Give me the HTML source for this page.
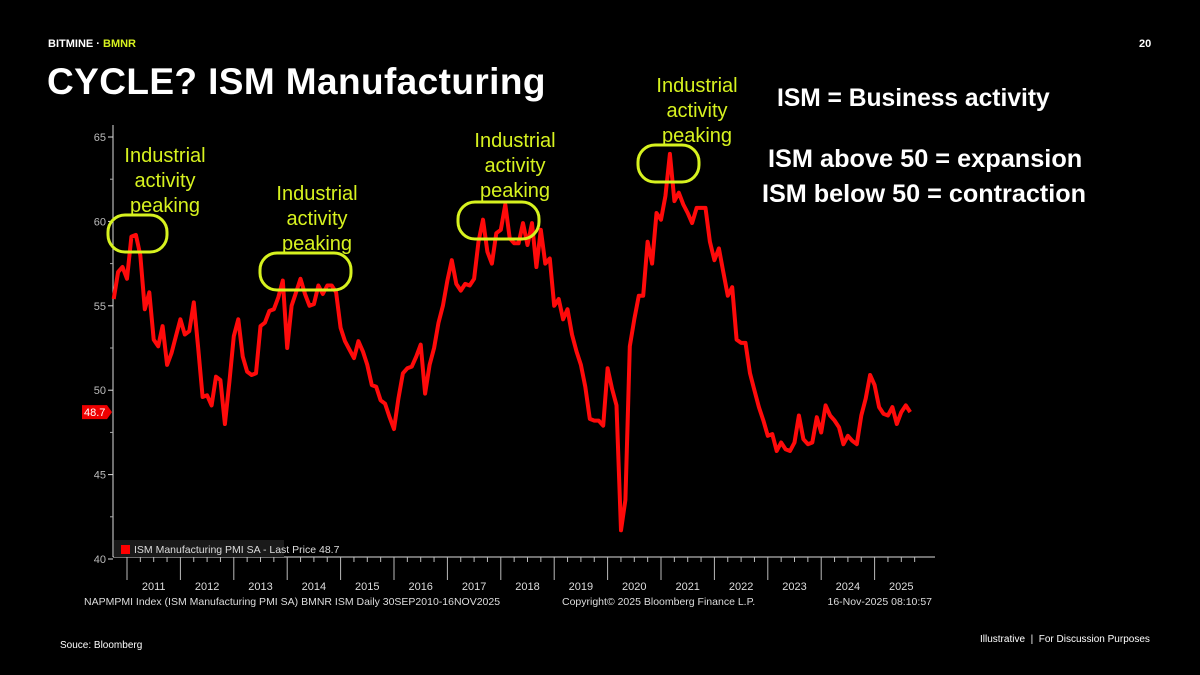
<!DOCTYPE html>
<html><head><meta charset="utf-8">
<style>
html,body{margin:0;padding:0;background:#000;}
body{width:1200px;height:675px;position:relative;overflow:hidden;font-family:"Liberation Sans",sans-serif;}
.t{position:absolute;white-space:nowrap;}
</style></head>
<body>
<div class="t" style="left:48px;top:38px;font-size:11px;font-weight:bold;color:#fff;">BITMINE · <span style="color:#d7f21f">BMNR</span></div>
<div class="t" style="left:1139px;top:38px;font-size:11px;font-weight:bold;color:#fff;">20</div>
<div class="t" style="left:47px;top:61px;font-size:37px;font-weight:bold;color:#fff;letter-spacing:0.4px;">CYCLE? ISM Manufacturing</div>
<div class="t" style="left:777px;top:85px;font-size:24.6px;font-weight:bold;color:#fff;">ISM = Business activity</div>
<div class="t" style="left:768px;top:145px;font-size:25.3px;font-weight:bold;color:#fff;">ISM above 50 = expansion</div>
<div class="t" style="left:762px;top:180px;font-size:25.2px;font-weight:bold;color:#fff;">ISM below 50 = contraction</div>
<div class="t" style="left:60px;top:640px;font-size:10px;color:#fff;">Souce: Bloomberg</div>
<div class="t" style="left:980px;top:634px;font-size:10px;color:#fff;">Illustrative &nbsp;|&nbsp; For Discussion Purposes</div>

<svg id="chart" width="1200" height="675" style="position:absolute;left:0;top:0;" xmlns="http://www.w3.org/2000/svg"></svg>

<script>
const yTicks=[40,45,50,55,60,65];
const yearLabels=["2011","2012","2013","2014","2015","2016","2017","2018","2019","2020","2021","2022","2023","2024","2025"];
const startMonthOffset=-3; // Oct 2010 relative to Jan 2011
const ism2010=[55.4,57.0,57.3];
const ism2011=[56.6,59.1,59.2,58.0,54.8,55.8,53.0,52.6,53.8,51.5,52.2,53.2];
const ism2012=[54.2,53.3,53.5,55.2,52.5,49.6,49.7,49.1,50.8,50.6,48.0,50.5];
const ism2013=[53.2,54.2,52.0,51.1,50.9,51.0,53.8,54.0,54.7,54.8,55.5,56.5];
const ism2014=[52.5,55.0,55.8,56.6,55.7,55.0,55.1,56.2,55.7,56.2,56.2,55.8];
const ism2015=[53.7,52.9,52.4,51.9,52.9,52.3,51.5,50.3,50.2,49.4,49.2,48.4];
const ism2016=[47.7,49.5,51.0,51.3,51.4,52.0,52.7,49.8,51.5,52.5,54.0,55.0];
const ism2017=[56.5,57.7,56.3,55.9,56.3,56.2,56.6,58.8,60.1,58.2,57.5,59.3];
const ism2018=[59.5,61.0,59.0,58.7,58.7,59.9,58.6,59.9,57.3,59.5,57.5,57.8];
const ism2019=[55.0,55.4,54.2,54.8,53.3,52.3,51.5,50.2,48.3,48.2,48.2,47.9];
const ism2020=[51.3,50.1,49.1,41.7,43.5,52.6,54.2,55.6,55.6,58.8,57.5,60.5];
const ism2021=[60.1,61.5,64.0,61.2,61.7,61.0,60.5,59.9,60.8,60.8,60.8,58.8];
const ism2022=[57.7,58.4,57.0,55.6,56.1,53.0,52.8,52.8,51.0,50.0,49.0,48.2];
const ism2023=[47.3,47.4,46.4,46.9,46.5,46.4,46.9,48.5,47.1,46.8,46.9,48.4];
const ism2024=[47.5,49.1,48.5,48.2,47.8,46.8,47.3,47.0,46.8,48.5,49.5,50.9];
const ism2025=[50.3,49.0,48.6,48.5,49.0,48.0,48.7,49.1,48.7];
const lastPrice=48.7;

const svg=document.getElementById('chart');
const NS='http://www.w3.org/2000/svg';
const X0=127, PXY=53.4, Y40=559, Y65=137;
const xScale=m=>X0+m*PXY/12;
const yScale=v=>Y40-(v-40)*(Y40-Y65)/25;
function mk(tag,attrs,parent){const e=document.createElementNS(NS,tag);for(const k in attrs)e.setAttribute(k,attrs[k]);(parent||svg).appendChild(e);return e;}

const series=[].concat(ism2010,ism2011,ism2012,ism2013,ism2014,ism2015,ism2016,ism2017,ism2018,ism2019,ism2020,ism2021,ism2022,ism2023,ism2024,ism2025);

const yAxis=mk('line',{x1:113,y1:125,x2:113,y2:557,stroke:'#ddd','stroke-width':1});


const xAxis=mk('line',{x1:113,y1:557,x2:935,y2:557,stroke:'#ddd','stroke-width':1});



yTicks.forEach(v=>{
  const y=yScale(v);
  const tk=mk('line',{x1:108,y1:y,x2:113,y2:y,stroke:'#ddd'});
  
  
  const lb=mk('text',{x:106,y:y+4,'text-anchor':'end','font-size':11,fill:'#bbb','font-family':'Liberation Sans, sans-serif'});
  lb.textContent=v;
  
  
  if(v<65){const ym=yScale(v+2.5);const mt=mk('line',{x1:110,y1:ym,x2:113,y2:ym,stroke:'#aaa'});
    
    }
});

yearLabels.forEach((lab,i)=>{
  const xb=xScale(i*12);
  const sep=mk('line',{x1:xb,y1:557,x2:xb,y2:580,stroke:'#bbb'});
  
  
  for(let q=1;q<4;q++){const xq=xScale(i*12+q*3);const mt=mk('line',{x1:xq,y1:557,x2:xq,y2:562,stroke:'#bbb'});
    
    }
  const t=mk('text',{x:xScale(i*12+6),y:590,'text-anchor':'middle','font-size':11,fill:'#ddd','font-family':'Liberation Sans, sans-serif'});
  t.textContent=lab;
  
  
});

let d='';
series.forEach((v,i)=>{const x=xScale(i+startMonthOffset),y=yScale(v);d+=(i?'L':'M')+x.toFixed(1)+' '+y.toFixed(1);});
const path=mk('path',{d:d,fill:'none',stroke:'#ff0a0a','stroke-width':4,'stroke-linejoin':'round'});



const ly=yScale(lastPrice);
const lp=mk('path',{d:`M82 ${ly-7}H107L112 ${ly}L107 ${ly+7}H82Z`,fill:'#e00'});


const lpt=mk('text',{x:84,y:ly+4,'font-size':11,fill:'#fff','font-family':'Liberation Sans, sans-serif'});
lpt.textContent=lastPrice;



const lg=mk('rect',{x:114,y:540,width:170,height:17,fill:'#1a1a1a'});


const lsw=mk('rect',{x:121,y:545,width:9,height:9,fill:'#f00'});


const lt=mk('text',{x:134,y:553,'font-size':10.5,fill:'#ddd','font-family':'Liberation Sans, sans-serif'});
lt.textContent='ISM Manufacturing PMI SA - Last Price 48.7';



const f1=mk('text',{x:84,y:605,'font-size':10.5,fill:'#ddd','font-family':'Liberation Sans, sans-serif'});
f1.textContent='NAPMPMI Index (ISM Manufacturing PMI SA) BMNR ISM Daily 30SEP2010-16NOV2025';


const f2=mk('text',{x:562,y:605,'font-size':10.5,fill:'#ddd','font-family':'Liberation Sans, sans-serif'});
f2.textContent='Copyright© 2025 Bloomberg Finance L.P.';


const f3=mk('text',{x:932,y:605,'text-anchor':'end','font-size':10.5,fill:'#ddd','font-family':'Liberation Sans, sans-serif'});
f3.textContent='16-Nov-2025 08:10:57';



const ovals=[[108,215,59,37],[260,253,91,37],[458,202,81,37],[638,145,61,37]];
const notes=[[165,156],[317,194],[515,141],[697,86]];
ovals.forEach((o,i)=>{
  const r=mk('rect',{x:o[0],y:o[1],width:o[2],height:o[3],rx:17,fill:'none',stroke:'#d7f21f','stroke-width':3});
  
  
  const n=notes[i];
  ['Industrial','activity','peaking'].forEach((w,j)=>{
    const t=mk('text',{x:n[0],y:n[1]+j*25+6,'text-anchor':'middle','font-size':20,fill:'#d7f21f','font-family':'Liberation Sans, sans-serif'});
    t.textContent=w;
    
    
  });
});
</script>
</body></html>
